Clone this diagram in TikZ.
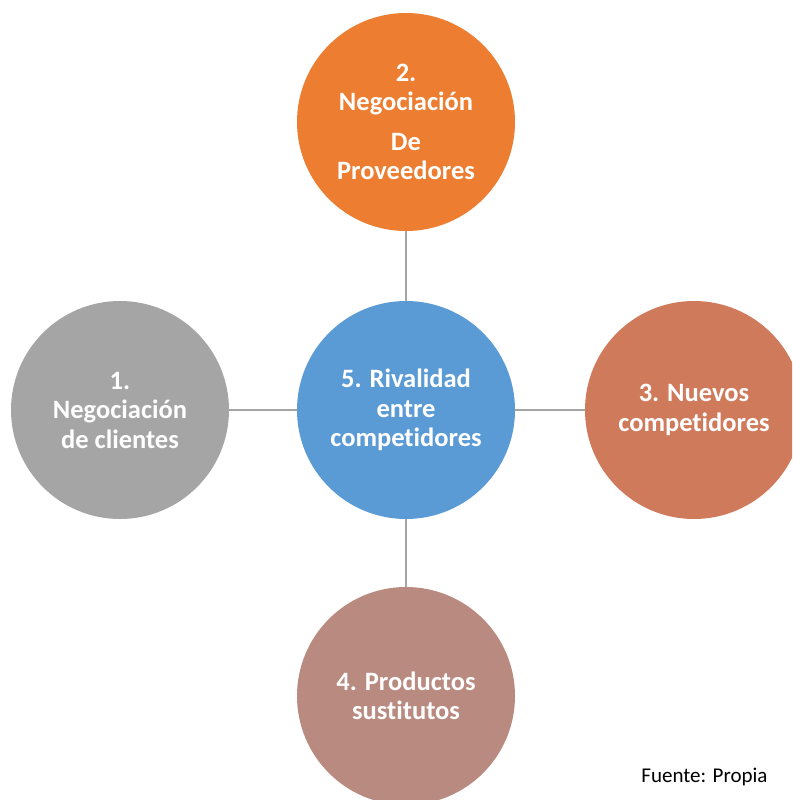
\documentclass[tikz,border=0pt]{standalone}
\usepackage{fontspec}
\setmainfont{Carlito}[Ligatures=NoCommon]
\definecolor{corange}{HTML}{ED7D31}
\definecolor{cblue}{HTML}{5B9BD5}
\definecolor{cgray}{HTML}{A5A5A5}
\definecolor{cterra}{HTML}{D07A5C}
\definecolor{crose}{HTML}{B98A80}
\definecolor{cline}{HTML}{A5A5A5}
\tikzset{
  force/.style={circle, minimum size=218pt, inner sep=0pt, text=white,
    font=\fontsize{26.5}{29.5}\selectfont\bfseries, align=center},
  link/.style={draw=cline, line width=1.8pt}
}
\begin{document}
\begin{tikzpicture}[x=1pt,y=1pt]
\useasboundingbox (0,0) rectangle (792,-800);
\clip (0,0) rectangle (792,-800);
\node[force, fill=cblue] (c) at (406,-410) {5. Rivalidad\\entre\\competidores};
\node[force, fill=corange] (t) at (406,-122) {2.\\Negociación\\[10pt]De\\Proveedores};
\node[force, fill=cgray] (l) at (120,-410) {1.\\Negociación\\de clientes};
\node[force, fill=cterra] (r) at (694,-410) {3. Nuevos\\competidores};
\node[force, fill=crose] (b) at (406,-696) {4. Productos\\sustitutos};
\draw[link] (t.south) -- (c.north);
\draw[link] (l.east) -- (c.west);
\draw[link] (c.east) -- (r.west);
\draw[link] (c.south) -- (b.north);
\node[anchor=base east, font=\fontsize{21}{25}\selectfont] (src) at (771,-782) {Fuente: Propia};
\end{tikzpicture}
\end{document}
